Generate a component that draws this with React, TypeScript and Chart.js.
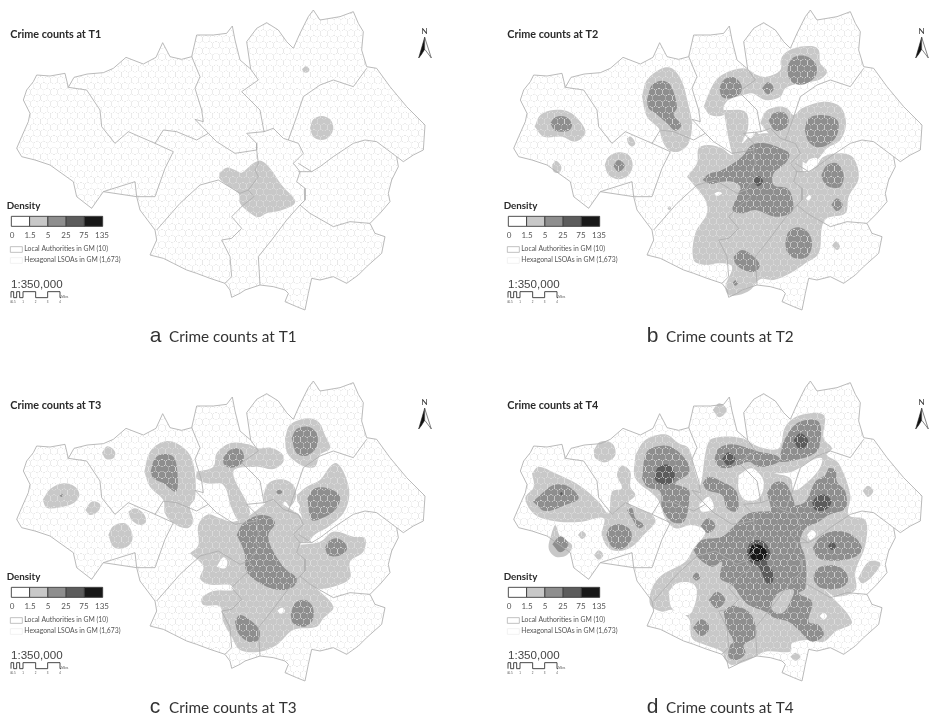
import React, { useEffect, useRef } from "react";
import { Chart, registerables } from "chart.js";
Chart.register(...registerables);

// ---------- legend and label data ----------
const densityBreaks = ["0", "1.5", "5", "25", "75", "135"];
const densityColors = ["#ffffff", "#c8c8c8", "#8e8e8e", "#5c5c5c", "#181818"];
const scaleLabels = ["0", "0.5", "1", "2", "3", "4"];
const legendRows = ["Local Authorities in GM (10)", "Hexagonal LSOAs in GM (1,673)"];
const panelTitles = ["Crime counts at T1", "Crime counts at T2", "Crime counts at T3", "Crime counts at T4"];
const panelLetters = ["a", "b", "c", "d"];

// ---------- map geometry, map units ----------
const outerBoundary = [70,300,80,270,100,245,110,225,150,228,195,220,205,262,222,232,262,222,310,218,340,205,378,172,430,192,468,172,488,128,510,170,545,178,575,170,590,105,640,105,680,100,697,78,705,120,720,180,752,207,740,125,770,85,800,68,835,90,860,125,880,145,900,100,925,50,940,30,960,60,1020,50,1060,35,1075,70,1090,95,1085,150,1100,200,1130,205,1170,260,1220,320,1275,375,1270,450,1240,465,1210,485,1190,470,1195,500,1175,540,1165,580,1170,605,1140,640,1110,670,1125,700,1155,710,1145,760,1100,800,1075,825,1040,850,1000,830,960,840,935,835,925,880,915,930,890,920,855,905,865,880,855,870,820,860,780,855,735,870,720,880,695,892,690,870,675,850,630,835,590,820,560,810,520,790,490,775,450,765,470,720,465,690,435,650,420,630,410,590,310,575,275,625,230,590,220,545,150,495,105,480,65,470,50,445,65,410,85,365,90,340,70,300];
const divisionWiganBolton = [205,262,260,270,300,330,305,380,345,430,385,395,465,430,520,455,495,505,465,590,410,590,405,545,310,575];
const divisionBoltonBury = [575,170,600,230,585,265,605,330,610,365,585,358,625,400];
const divisionSalfordNorth = [465,430,490,390,530,395,590,420,625,400,650,425,705,460,770,450];
const divisionBuryRochdale = [752,207,775,240,725,275,745,295,780,330,792,395];
const divisionManchesterWest = [792,395,740,400,770,430,770,450,775,490,765,510,775,530,745,570,762,590,730,615,695,650,725,685,695,715,665,720,690,770,695,830,675,850];
const divisionTrafford = [470,690,540,610,600,555,655,540,720,580,745,570];
const divisionManchesterEast = [792,395,820,385,850,415,895,430,910,460,880,490,900,515,890,545,915,565,915,600,900,615,860,660,815,720,775,770,780,855];
const divisionRochdaleOldham = [1100,205,1060,260,1000,240,960,255,910,290,890,350,865,420];
const divisionOldhamTameside = [1190,470,1130,425,1095,420,1060,430,1000,470,960,500,935,515,895,490];
const divisionTamesideManchester = [935,515,895,515];
const divisionStockport = [900,615,930,640,1000,680,1050,665,1110,670];
const laDivisions = [divisionWiganBolton, divisionBoltonBury, divisionSalfordNorth, divisionBuryRochdale, divisionManchesterWest, divisionTrafford, divisionManchesterEast, divisionRochdaleOldham, divisionOldhamTameside, divisionTamesideManchester, divisionStockport];

// ---------- density zones at T1 ----------
const t1Level1 = [
  [906,208,917,199,928,207,925,216,912,217],
  [930,384,940,358,965,348,990,358,1000,384,988,410,965,420,940,410],
  [658,520,680,503,705,510,725,518,760,490,785,483,810,505,845,555,885,600,880,615,840,632,800,640,775,652,745,635,720,610,715,580,680,555,658,535],
];

// ---------- density zones at T2 ----------
const t2Level1 = [
  [208,380,225,345,265,330,310,335,345,365,360,400,330,425,290,410,235,410],
  [485,415,497,410,510,430,500,440,488,430],
  [260,495,272,482,288,500,282,518,265,515],
  [418,495,430,470,460,457,490,465,502,495,490,525,460,538,430,525],
  [530,290,545,240,590,205,620,205,650,245,668,310,680,370,670,430,640,455,610,450,590,420,580,385,545,350],
  [715,320,745,250,775,222,835,205,875,225,905,230,945,210,950,170,985,145,1040,138,1060,150,1065,190,1085,215,1060,240,1000,250,960,265,945,290,900,300,860,280,835,285,790,300,775,320,775,345,735,345],
  [775,330,840,335,848,385,830,430,870,395,885,420,810,470,795,440],
  [885,370,900,335,935,320,965,325,985,345,1010,325,1075,305,1125,320,1142,370,1125,420,1085,445,1055,480,1020,490,975,440,920,410],
  [665,530,695,490,700,445,730,435,770,445,800,465,830,440,870,405,935,405,985,440,1010,470,1015,515,1050,500,1075,470,1130,460,1165,475,1180,535,1150,590,1140,640,1085,655,1070,680,1060,760,1020,790,975,820,925,840,885,838,855,870,820,885,790,885,780,860,800,800,760,790,720,795,685,780,690,700,725,640,720,600,690,560],
  [1100,737,1112,724,1124,740,1115,750],
  [606,625,612,619,618,625,612,631],
];
const t2Holes = [
  [747,580,760,575,770,580,755,588],
  [1022,595,1032,585,1038,592,1028,602],
  [1015,510,1030,480,1055,475,1045,505,1025,518],
  [843,400,860,385,870,395,855,415],
];
const t2Level2 = [
  [968,195,985,172,1020,168,1050,190,1052,225,1020,252,985,250,968,225],
  [762,265,775,240,805,232,828,255,825,280,795,295,770,290],
  [890,265,908,247,926,265,908,283],
  [910,362,925,340,955,337,970,360,960,385,930,392],
  [1018,390,1030,355,1070,345,1115,360,1118,395,1100,425,1060,442,1030,425],
  [1068,525,1085,495,1115,490,1135,525,1125,560,1095,562,1075,545],
  [1098,614,1115,595,1132,614,1115,633],
  [712,540,730,522,770,510,830,470,860,435,900,430,945,445,972,462,960,490,925,520,925,555,965,565,980,590,980,635,930,650,870,630,830,640,802,630,815,590,825,560,800,545,770,545,735,552],
  [960,730,970,695,1000,682,1030,700,1040,735,1025,770,990,775,965,755],
  [805,770,830,750,865,770,883,795,870,815,835,810,810,790],
  [802,849,810,841,818,849,810,857],
  [443,497,460,480,478,497,460,515],
  [255,370,270,352,300,350,320,372,310,392,270,392],
  [545,300,560,255,590,242,615,255,635,320,625,345,648,375,630,392,605,370,570,340,550,325],
];
const t2Level3 = [[863,543,878,528,893,543,878,559]];

// ---------- density zones at T3 ----------
const t3Level1 = [
  [306,283,322,264,345,280,340,300,318,302],
  [128,425,150,393,190,375,225,385,238,410,220,435,175,448,140,448],
  [256,455,275,430,300,437,295,458,270,470],
  [385,460,405,450,430,465,438,490,420,500,395,485],
  [325,530,340,503,375,495,395,520,395,550,370,570,340,565],
  [433,340,450,280,490,250,530,255,570,290,585,345,585,420,570,445,580,490,560,510,520,495,495,465,490,425,450,385],
  [590,340,640,325,650,285,690,255,745,258,775,270,810,268,845,285,850,310,820,332,770,325,700,340,750,460,720,490,695,450,670,380,620,375,590,360],
  [855,240,870,200,920,180,955,190,975,230,990,270,960,290,945,325,915,325,880,305,860,280],
  [790,412,805,375,845,363,880,380,888,415,870,445,855,430,830,455,800,445],
  [890,410,920,385,960,365,990,325,1010,315,1035,350,1048,410,1030,465,985,505,960,520,925,550,880,545,880,510,905,480,895,450],
  [570,585,595,560,595,500,625,468,660,480,700,490,750,470,790,440,815,425,860,445,905,480,880,510,895,550,920,600,915,640,940,680,1000,745,970,780,950,805,880,815,830,860,780,880,720,875,695,835,670,790,660,745,610,740,605,720,640,698,700,695,690,680,625,678,600,660,610,625],
  [890,560,960,550,1000,520,1060,535,1095,540,1090,580,1050,610,1050,660,1000,685,950,690,915,660,915,600],
];
const t3Holes = [
  [650,625,670,597,682,610,675,630],
  [832,757,845,748,855,757,843,766],
  [872,445,890,430,900,445,885,460],
  [925,550,950,525,975,515,955,545,935,552],
];
const t3Level2 = [
  [178,411,184,406,190,411,184,416],
  [452,340,465,300,490,287,520,295,532,340,528,400,490,375,460,360],
  [670,298,690,275,720,272,732,295,720,320,690,328,672,318],
  [875,240,890,212,925,205,950,225,950,265,920,292,890,285],
  [827,401,837,394,847,401,837,408],
  [922,420,945,390,985,390,1020,415,1005,455,965,480,935,485],
  [710,530,730,495,770,472,810,475,825,495,805,530,815,570,850,625,890,660,880,685,840,695,790,680,740,640,735,590,725,560],
  [975,570,985,550,1010,540,1035,555,1040,575,1015,593,985,590],
  [872,770,885,735,915,725,938,745,938,785,915,805,880,795],
  [705,790,720,770,750,785,778,815,775,845,745,850,715,825],
];

// ---------- density zones at T4 ----------
const t4Level1 = [
  [200,345,220,325,270,345,340,380,400,430,430,465,440,400,470,390,455,350,470,322,495,340,495,385,510,410,490,435,560,470,570,490,540,525,500,565,460,578,430,570,410,530,415,480,350,490,280,490,210,470,180,420,205,385],
  [385,275,405,250,440,255,450,290,420,312,390,300],
  [742,155,762,135,785,155,762,177],
  [338,530,350,518,362,530,350,542],
  [386,590,400,576,414,590,400,604],
  [260,520,270,500,285,535,320,560,305,590,270,595,250,570],
  [510,290,540,245,600,228,640,255,670,270,690,345,705,380,730,250,770,235,830,240,880,265,940,270,960,205,1000,172,1075,170,1075,240,1100,270,1085,290,1120,315,1155,410,1150,470,1200,485,1200,560,1170,640,1170,695,1110,715,1075,690,1160,790,1110,820,1075,850,1030,845,980,855,975,880,900,880,850,905,800,920,780,905,770,880,720,860,680,840,670,780,620,755,590,760,555,740,560,690,590,650,660,610,685,570,720,520,680,500,630,510,600,480,575,420,510,360],
  [1178,660,1210,610,1245,615,1220,655,1190,675],
  [1192,398,1208,382,1224,398,1208,416],
  [975,895,990,883,1005,895,990,907],
];
const t4Holes = [
  [925,345,980,340,1040,305,1070,300,1060,335,1010,385,985,395,975,360],
  [820,350,860,330,895,370,880,420,840,425,820,395],
  [700,440,730,415,745,450,710,460],
  [1025,530,1040,515,1052,528,1035,545],
  [610,700,635,675,680,675,695,700,680,760,660,770,620,750],
  [1063,773,1075,763,1085,773,1075,784],
];
const t4Level2 = [
  [203,430,225,410,265,380,310,385,340,420,300,440,240,458],
  [485,455,500,450,510,480,535,500,520,510,500,480],
  [423,530,435,505,465,498,495,515,497,545,470,572,440,565],
  [261,558,285,534,309,558,285,582],
  [530,360,545,280,590,262,625,270,665,310,670,345,630,375,670,395,670,440,655,490,620,490,590,450,585,400,545,385],
  [748,300,760,270,800,258,850,270,880,280,930,290,945,305,920,320,880,325,850,310,820,320,780,330,755,320],
  [945,290,960,240,1000,192,1060,190,1062,265,1040,290,990,305,945,310],
  [712,375,730,355,770,370,810,395,820,440,810,460,785,450,770,410,725,395],
  [706,502,728,480,750,502,728,524],
  [681,655,693,643,705,655,693,667],
  [730,725,755,700,780,725,755,750],
  [683,808,708,783,733,808,708,833],
  [905,405,925,375,955,372,975,400,985,450,925,475,915,440],
  [685,575,710,545,770,535,810,500,850,465,920,458,975,445,1020,430,1050,370,1080,350,1090,330,1110,335,1115,370,1140,400,1140,450,1090,470,1060,490,1020,510,1005,550,1020,600,1020,690,1000,705,1040,730,1030,790,1060,800,1075,830,1040,850,1005,820,970,790,930,780,900,760,850,740,830,720,800,680,765,660,770,610,740,625,700,600],
  [775,760,800,742,850,760,870,800,870,835,835,860,840,885,815,905,790,895,795,860,805,850,785,810],
  [1042,570,1065,535,1110,518,1160,530,1190,570,1170,595,1110,607,1060,600],
  [1045,650,1060,628,1110,622,1140,640,1147,670,1120,690,1070,690,1048,670],
];
const t4Patches = [[920,730,945,700,985,695,975,730,950,765,920,755]];
const t4Level3 = [
  [284,406,288,401,292,406,288,411],
  [568,350,580,325,610,320,628,345,620,372,590,378,570,365],
  [770,302,790,282,810,302,790,322],
  [985,245,1005,225,1028,245,1020,265,1000,270],
  [1088,563,1100,552,1112,563,1100,575],
  [1040,432,1060,410,1085,412,1098,432,1080,455,1050,455],
  [843,580,860,548,895,550,915,585,905,615,922,640,922,670,905,675,880,625,855,610],
];
const t4Level4 = [[850,590,862,560,888,562,905,585,890,607,865,605]];

const panels = [
  { title: 0, dx: 0, dy: 0, left: 0, top: 0, zones: [[t1Level1, 1]] },
  { title: 1, dx: 95, dy: 0, left: 497, top: 0, zones: [[t2Level1, 1], [t2Holes, 0], [t2Level2, 2], [t2Level3, 3]] },
  { title: 2, dx: 0, dy: 38, left: 0, top: 371, zones: [[t3Level1, 1], [t3Holes, 0], [t3Level2, 2]] },
  { title: 3, dx: 95, dy: 38, left: 497, top: 371, zones: [[t4Level1, 1], [t4Holes, 0], [t4Level2, 2], [t4Patches, 1], [t4Level3, 3], [t4Level4, 4]] },
] as any[];

function toPoints(flat: number[], dx = 0, dy = 0, close = false) {
  const out: { x: number; y: number }[] = [];
  for (let i = 0; i < flat.length; i += 2) out.push({ x: flat[i] - dx, y: flat[i + 1] - dy });
  if (close) out.push({ ...out[0] });
  return out;
}

function hexTexture() {
  // a repeating pale hexagon texture for the LSOA mesh
  const k = 4;
  const w = 27;
  const h = 47;
  const s = h / 3;
  const c = document.createElement("canvas");
  c.width = w;
  c.height = h;
  const g = c.getContext("2d")!;
  g.strokeStyle = "#e2e2e2";
  g.lineWidth = 0.4 * k;
  const edges = [
    [w / 2, 0, 0, s / 2], [w / 2, 0, w, s / 2],
    [0, s / 2, 0, 1.5 * s], [w, s / 2, w, 1.5 * s],
    [0, 1.5 * s, w / 2, 2 * s], [w, 1.5 * s, w / 2, 2 * s],
    [w / 2, 2 * s, w / 2, 3 * s],
  ];
  for (const [a, b, e, f] of edges) {
    g.beginPath();
    g.moveTo(a, b);
    g.lineTo(e, f);
    g.stroke();
  }
  const p = document.createElement("canvas").getContext("2d")!.createPattern(c, "repeat")!;
  p.setTransform(new DOMMatrix().scale(1 / k, 1 / k));
  return p;
}

const annotationPlugin = {
  id: "mapAnnotations",
  afterDatasetsDraw(chart: any) {
    const { ctx, scales } = chart;
    const X = (u: number) => scales.x.getPixelForValue(u);
    const Y = (u: number) => scales.y.getPixelForValue(u);
    const idx = chart.options.plugins.mapAnnotations.index as number;
    const text = (s: string, x: number, y: number, font: string, color: string, align: CanvasTextAlign = "left") => {
      ctx.font = font;
      ctx.fillStyle = color;
      ctx.textAlign = align;
      ctx.textBaseline = "alphabetic";
      ctx.fillText(s, X(x), Y(y));
    };
    const path = (flat: number[], stroke: string, width: number, fill?: string) => {
      ctx.beginPath();
      flat.forEach((v, i) => {
        if (i % 2) return;
        const px = X(v);
        const py = Y(flat[i + 1]);
        i ? ctx.lineTo(px, py) : ctx.moveTo(px, py);
      });
      if (fill) {
        ctx.closePath();
        ctx.fillStyle = fill;
        ctx.fill();
      }
      ctx.strokeStyle = stroke;
      ctx.lineWidth = width;
      ctx.stroke();
    };
    ctx.save();
    text(panelTitles[idx], 31, 115, "bold 10.8px Lato", "#2a2a2a");
    text("Density", 20, 627, "bold 9.8px Lato", "#2a2a2a");
    densityColors.forEach((c, i) => {
      const x0 = 34 + i * 54.8;
      const x1 = x0 + 54.8;
      path([x0, 649, x1, 649, x1, 679, x0, 679], "#3c3c3c", 0.9, c);
    });
    densityBreaks.forEach((b, i) => text(b, 36 + i * 54, 715, "8px Lato", "#555555", "center"));
    path([31, 740, 67, 740, 67, 757, 31, 757], "#a8a8a8", 0.7, "#ffffff");
    path([31, 773, 67, 773, 67, 790, 31, 790], "#ececec", 0.7, "#ffffff");
    text(legendRows[0], 73, 754, "6.8px Lato", "#555555");
    text(legendRows[1], 73, 787, "6.8px Lato", "#555555");
    text("1:350,000", 33, 865, "11.6px 'Liberation Sans'", "#444444");
    path([33, 893, 33, 875, 41, 875, 41, 893, 50, 893, 50, 875, 59, 875, 59, 893, 69, 893, 69, 875, 107, 875, 107, 893, 143, 893, 143, 875, 180, 875, 180, 893, 183, 893], "#333333", 0.9);
    const scaleXs = [33, 41, 69, 107, 143, 180];
    scaleLabels.forEach((l, i) => text(l, scaleXs[i], 908, "3px 'Liberation Sans'", "#555555", "center"));
    text("Miles", 184, 894, "3px 'Liberation Sans'", "#555555");
    text("N", 1274, 101, "8px Lato", "#333333", "center");
    path([1274, 112, 1256, 174, 1264, 164, 1274, 148], "#222222", 0.6, "#111111");
    path([1274, 112, 1294, 174, 1276, 150, 1274, 148], "#333333", 0.6, "#ffffff");
    text(panelLetters[idx], 449, 1026, "21px 'Liberation Sans'", "#333333");
    text(panelTitles[idx], 507, 1025, "15.3px Lato", "#333333");
    ctx.restore();
  },
};

function Panel({ cfg }: { cfg: any }) {
  const ref = useRef<HTMLCanvasElement>(null);
  useEffect(() => {
    const lines = (data: any[], o: any) => ({ data, pointRadius: 0, pointHoverRadius: 0, ...o });
    const ds: any[] = [];
    for (const [group, level] of cfg.zones) {
      for (const poly of group) {
        ds.push(lines(toPoints(poly, cfg.dx, cfg.dy, true), {
          backgroundColor: densityColors[level],
          borderColor: "transparent",
          borderWidth: 0,
          fill: "shape",
          tension: 0.35,
        }));
      }
    }
    ds.push(lines(toPoints(outerBoundary), { backgroundColor: hexTexture(), borderColor: "transparent", borderWidth: 0, fill: "shape", tension: 0 }));
    for (const d of laDivisions) ds.push(lines(toPoints(d), { borderColor: "#adadad", borderWidth: 0.85, fill: false, tension: 0 }));
    ds.push(lines(toPoints(outerBoundary), { borderColor: "#adadad", borderWidth: 0.85, fill: false, tension: 0 }));
    ds.forEach((d, i) => (d.order = ds.length - i));
    const chart = new Chart(ref.current!, {
      type: "line",
      data: { datasets: ds },
      plugins: [annotationPlugin],
      options: {
        animation: false,
        responsive: false,
        devicePixelRatio: 1,
        layout: { padding: 0 },
        events: [],
        plugins: { legend: { display: false }, tooltip: { enabled: false }, mapAnnotations: { index: cfg.title } } as any,
        scales: {
          x: { type: "linear", display: false, min: 0, max: 1299 },
          y: { type: "linear", display: false, min: 0, max: 1038, reverse: true },
        },
      },
    });
    return () => chart.destroy();
  }, [cfg]);
  return <canvas ref={ref} width={433} height={346} style={{ position: "absolute", left: cfg.left, top: cfg.top, width: 433, height: 346, display: "block", filter: "blur(0.35px)" }} />;
}

export default function App() {
  return (
    <div style={{ position: "fixed", left: 0, top: 0, width: 930, height: 717, background: "#fff", overflow: "hidden" }}>
      {panels.map((p) => <Panel key={p.title} cfg={p} />)}
    </div>
  );
}
